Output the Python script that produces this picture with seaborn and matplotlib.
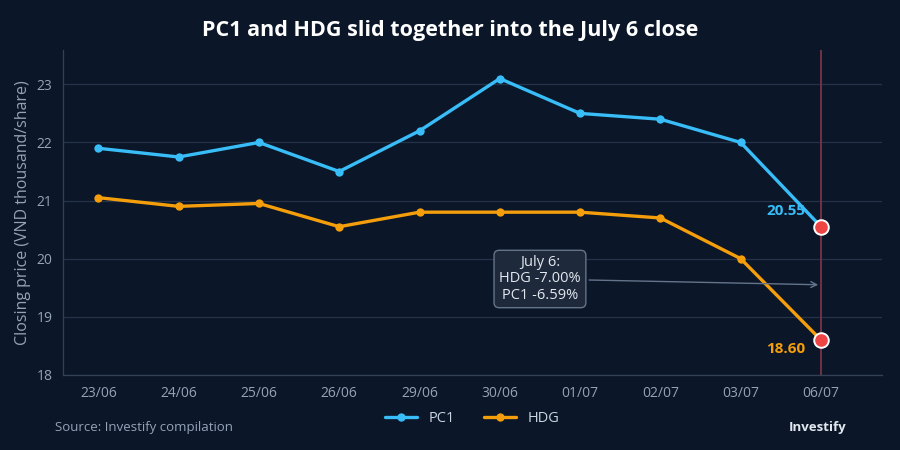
import numpy as np
import pandas as pd
import seaborn as sns
import matplotlib.pyplot as plt

dates = ["23/06", "24/06", "25/06", "26/06", "29/06", "30/06", "01/07", "02/07", "03/07", "06/07"]
pc1 = [21.9, 21.75, 22.0, 21.5, 22.2, 23.1, 22.5, 22.4, 22.0, 20.55]
hdg = [21.05, 20.9, 20.95, 20.55, 20.8, 20.8, 20.8, 20.7, 20.0, 18.6]
y_ticks = [18, 19, 20, 21, 22, 23]

BG = "#0b1628"
GRID = "#24324a"
TXT = "#94a3b8"
PC1_C = "#38bdf8"
HDG_C = "#f59e0b"

sns.set_style("dark")
plt.rcParams["font.family"] = ["Open Sans", "DejaVu Sans"]

df = pd.DataFrame({"date": dates * 2, "price": pc1 + hdg,
                   "ticker": ["PC1"] * len(dates) + ["HDG"] * len(dates)})
df["x"] = list(range(len(dates))) * 2

fig, ax = plt.subplots(figsize=(9, 4.5), dpi=100)
fig.patch.set_facecolor(BG)
ax.set_facecolor(BG)
fig.subplots_adjust(left=0.07, right=0.98, top=0.89, bottom=0.167)

sns.lineplot(df, x="x", y="price", hue="ticker", palette={"PC1": PC1_C, "HDG": HDG_C},
             marker="o", markersize=6, markeredgewidth=0, linewidth=2.4, ax=ax, zorder=3)

last = len(dates) - 1
ax.axvline(last, color="#7a3344", lw=1.3, zorder=2)
ax.scatter([last, last], [pc1[-1], hdg[-1]], s=110, color="#ef4444",
           edgecolor="white", linewidth=1.4, zorder=5)
ax.text(last - 0.2, pc1[-1] + 0.27, f"{pc1[-1]:.2f}", color=PC1_C, fontsize=11,
        fontweight="bold", ha="right", va="center")
ax.text(last - 0.2, hdg[-1] - 0.15, f"{hdg[-1]:.2f}", color=HDG_C, fontsize=11,
        fontweight="bold", ha="right", va="center")

hdg_pct = (hdg[-1] / hdg[-2] - 1) * 100
pc1_pct = -6.59
ax.annotate(f"July 6:\nHDG {hdg_pct:.2f}%\nPC1 {pc1_pct:.2f}%",
            xy=(last, 19.55), xytext=(5.5, 19.65), color="#e2e8f0", fontsize=10.5,
            ha="center", va="center", linespacing=1.1,
            bbox=dict(boxstyle="round,pad=0.35", fc="#1e293b", ec="#64748b", lw=1),
            arrowprops=dict(arrowstyle="->", color="#64748b", lw=1), zorder=6)

ax.set_xlim(-0.44, 9.76)
ax.set_ylim(18, 23.6)
ax.set_yticks(y_ticks)
ax.set_xticks(range(len(dates)))
ax.set_xticklabels(dates)
ax.grid(True, axis="y", color=GRID, lw=0.9)
ax.grid(False, axis="x")
ax.tick_params(axis="both", colors=TXT, labelsize=10, length=4, width=0.8)
ax.tick_params(axis="x", length=0, pad=8)
for side in ["top", "right"]:
    ax.spines[side].set_visible(False)
for side in ["left", "bottom"]:
    ax.spines[side].set_color("#334155")
    ax.spines[side].set_linewidth(0.9)
ax.set_xlabel("")
ax.set_ylabel("Closing price (VND thousand/share)", color=TXT, fontsize=11.5)

handles, labels = ax.get_legend_handles_labels()
ax.legend(handles, labels, loc="center", bbox_to_anchor=(0.5, -0.135), ncol=2,
          frameon=False, labelcolor="#cbd5e1", fontsize=10.5, handlelength=2.2,
          columnspacing=2.0)

fig.suptitle("PC1 and HDG slid together into the July 6 close", color="white",
             fontsize=15.5, fontweight="bold", y=0.955)
fig.text(0.061, 0.049, "Source: Investify compilation", color=TXT, fontsize=9.5,
         va="center")
fig.text(0.94, 0.049, "Investify", color="#e2e8f0", fontsize=9.5, fontweight="bold",
         va="center", ha="right")

fig.savefig("out.png", dpi=100, facecolor=BG)
